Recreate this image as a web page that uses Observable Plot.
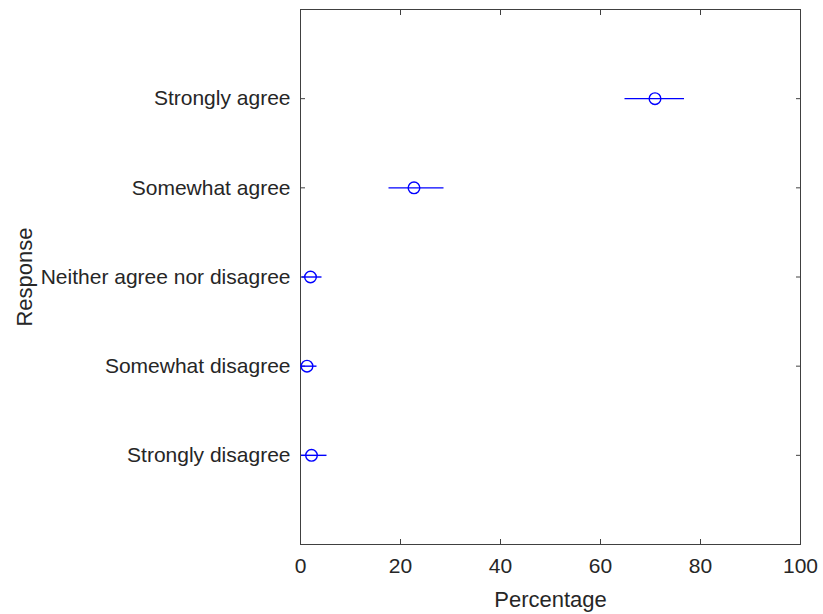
<!DOCTYPE html>
<html>
<head>
<meta charset="utf-8">
<script src="https://cdn.jsdelivr.net/npm/d3@7"></script>
<script src="https://cdn.jsdelivr.net/npm/@observablehq/plot@0.6"></script>
<style>
  html, body { margin: 0; padding: 0; background: #fff; }
  svg { display: block; }
</style>
</head>
<body>
<div id="chart"></div>
<script>
const categories = ["Strongly agree", "Somewhat agree", "Neither agree nor disagree", "Somewhat disagree", "Strongly disagree"];
const meanValues = [70.9, 22.7, 2.0, 1.3, 2.2];
const lowerValues = [64.9, 17.7, 0.3, 0, 0.2];
const upperValues = [76.8, 28.7, 4.3, 3.3, 5.3];
const xTicks = [0, 20, 40, 60, 80, 100];

const data = categories.map((c, i) => ({
  response: c, mean: meanValues[i], lo: lowerValues[i], hi: upperValues[i]
}));

const axisColor = "#404040";
const textColor = "#262626";
const font = "Liberation Sans, Arial, Helvetica, sans-serif";

const chart = Plot.plot({
  width: 823,
  height: 614,
  marginLeft: 300,
  marginRight: 23,
  marginTop: 9,
  marginBottom: 70,
  style: { fontFamily: font, color: textColor, background: "#fff" },
  x: { domain: [0, 100], ticks: xTicks },
  y: { type: "point", domain: categories, padding: 1, round: false },
  marks: [
    Plot.frame({ stroke: axisColor, strokeWidth: 1 }),
    Plot.axisX({ anchor: "bottom", ticks: xTicks, tickSize: -5, tickPadding: 19, fontSize: 21, stroke: axisColor, fill: textColor, label: null }),
    Plot.axisX({ anchor: "top", ticks: xTicks, tickSize: -5, text: null, stroke: axisColor, label: null }),
    Plot.axisY({ anchor: "left", tickSize: -5, tickPadding: 15, fontSize: 21, stroke: axisColor, fill: textColor, label: null }),
    Plot.axisY({ anchor: "right", tickSize: -5, text: null, stroke: axisColor, label: null }),
    Plot.text(["Percentage"], { frameAnchor: "bottom", dy: 55, fontSize: 22, fill: textColor, lineAnchor: "middle" }),
    Plot.text(["Response"], { frameAnchor: "left", dx: -276, rotate: -90, fontSize: 22, fill: textColor, textAnchor: "middle", lineAnchor: "middle" }),
    Plot.ruleY(data, { y: "response", x1: "lo", x2: "hi", stroke: "#0000ff", strokeWidth: 1.4, clip: true }),
    Plot.dot(data, { y: "response", x: "mean", r: 5.8, stroke: "#0000ff", strokeWidth: 1.4, fill: "none" })
  ]
});
document.getElementById("chart").appendChild(chart);
</script>
</body>
</html>
